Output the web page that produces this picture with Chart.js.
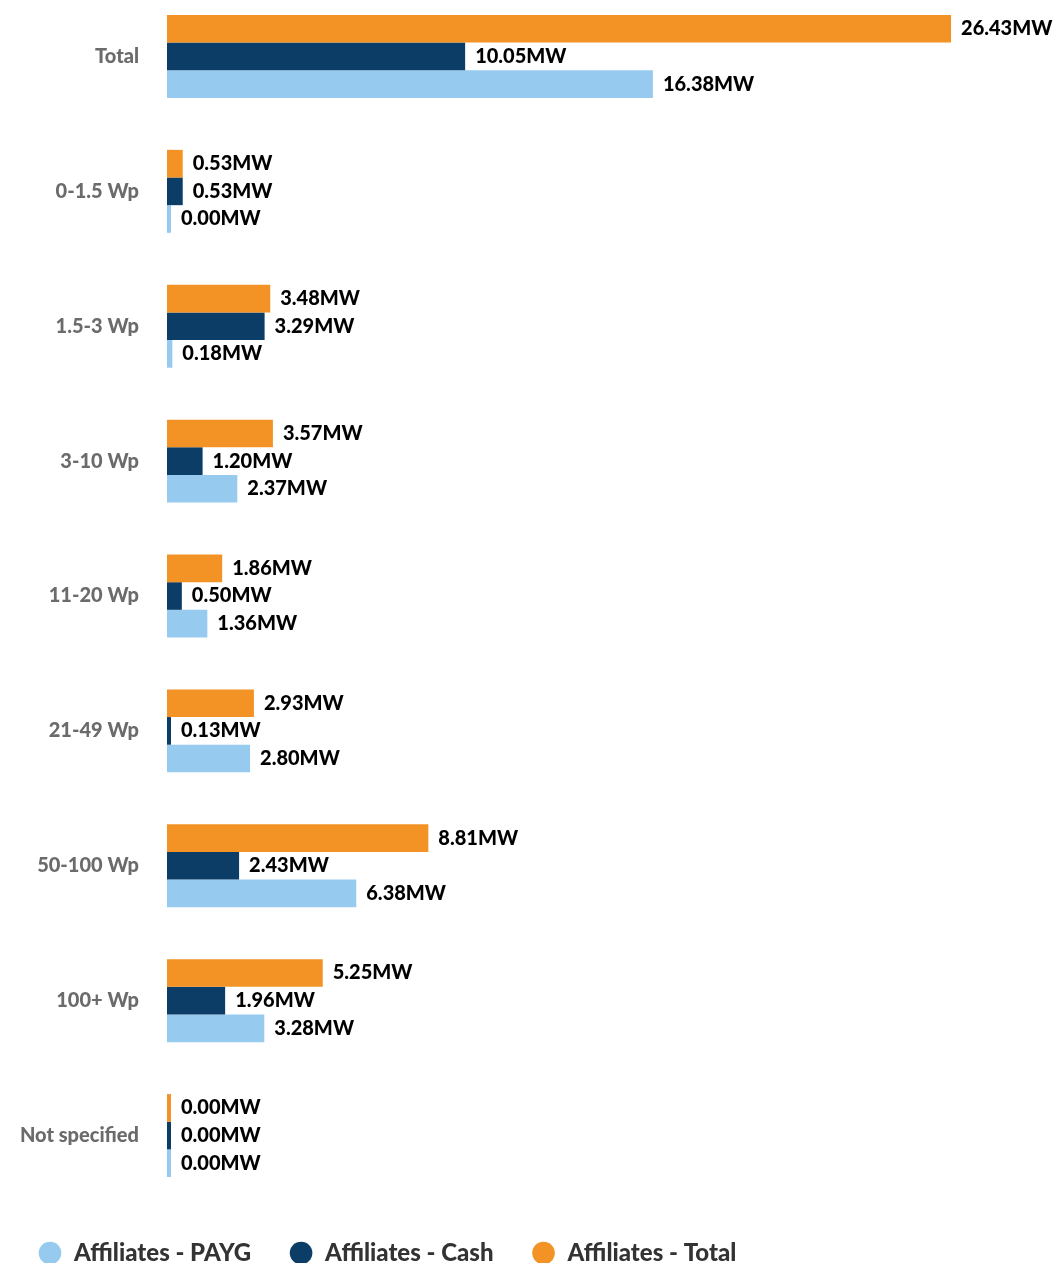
<!DOCTYPE html>
<html>
<head>
<meta charset="utf-8">
<script src="https://cdn.jsdelivr.net/npm/chart.js@4/dist/chart.umd.min.js"></script>
<style>
  html, body { margin: 0; padding: 0; background: #fff; overflow: hidden; }
  .chart-wrap { position: relative; width: 1054px; height: 1286px; margin-top: -11px; }
</style>
</head>
<body>
<div class="chart-wrap"><canvas id="chart"></canvas></div>
<script>
// size bands (Wp) and installed capacity in MW
const categories = ["Total", "0-1.5 Wp", "1.5-3 Wp", "3-10 Wp", "11-20 Wp", "21-49 Wp", "50-100 Wp", "100+ Wp", "Not specified"];
const totalMW = [26.43, 0.53, 3.48, 3.57, 1.86, 2.93, 8.81, 5.25, 0.00];
const cashMW  = [10.05, 0.53, 3.29, 1.20, 0.50, 0.13, 2.43, 1.96, 0.00];
const paygMW  = [16.38, 0.00, 0.18, 2.37, 1.36, 2.80, 6.38, 3.28, 0.00];

const FONT = "Lato, 'Open Sans', sans-serif";

// draws "x.xxMW" right after the end of each bar
const valueLabels = {
  id: "valueLabels",
  afterDatasetsDraw(chart) {
    const ctx = chart.ctx;
    ctx.save();
    ctx.font = "900 20px " + FONT;
    ctx.fillStyle = "#000";
    ctx.textAlign = "left";
    ctx.textBaseline = "middle";
    chart.data.datasets.forEach((ds, i) => {
      chart.getDatasetMeta(i).data.forEach((bar, j) => {
        ctx.fillText(ds.data[j].toFixed(2) + "MW", bar.x + 10, bar.y);
      });
    });
    ctx.restore();
  }
};

new Chart(document.getElementById("chart"), {
  type: "bar",
  data: {
    labels: categories,
    datasets: [
      { label: "Affiliates - Total", data: totalMW, backgroundColor: "#F39325" },
      { label: "Affiliates - Cash", data: cashMW, backgroundColor: "#0C3D66" },
      { label: "Affiliates - PAYG", data: paygMW, backgroundColor: "#97CAEF" }
    ]
  },
  options: {
    indexAxis: "y",
    responsive: true,
    maintainAspectRatio: false,
    animation: false,
    layout: { padding: 0 },
    datasets: {
      bar: {
        categoryPercentage: 0.615,
        barPercentage: 1,
        minBarLength: 4,
        borderWidth: 0
      }
    },
    scales: {
      x: {
        display: false,
        min: 0,
        max: 29.9
      },
      y: {
        grid: { display: false },
        border: { display: false },
        ticks: {
          padding: 20,
          color: "#6b6b6b",
          font: { family: FONT, size: 20, weight: "900" }
        },
        afterFit(scale) {
          // fixed label column; no extra room above/below the bars
          scale.width = 167;
          scale.paddingTop = 0;
          scale.paddingBottom = 0;
        }
      }
    },
    plugins: {
      tooltip: { enabled: false },
      legend: {
        position: "bottom",
        align: "start",
        labels: {
          usePointStyle: true,
          pointStyle: "circle",
          boxWidth: 24,
          boxHeight: 16,
          padding: 38,
          color: "#333",
          font: { family: FONT, size: 24, weight: "900" },
          // PAYG first, Total last
          sort: (a, b) => b.datasetIndex - a.datasetIndex
        }
      }
    }
  },
  plugins: [valueLabels]
});
</script>
</body>
</html>
